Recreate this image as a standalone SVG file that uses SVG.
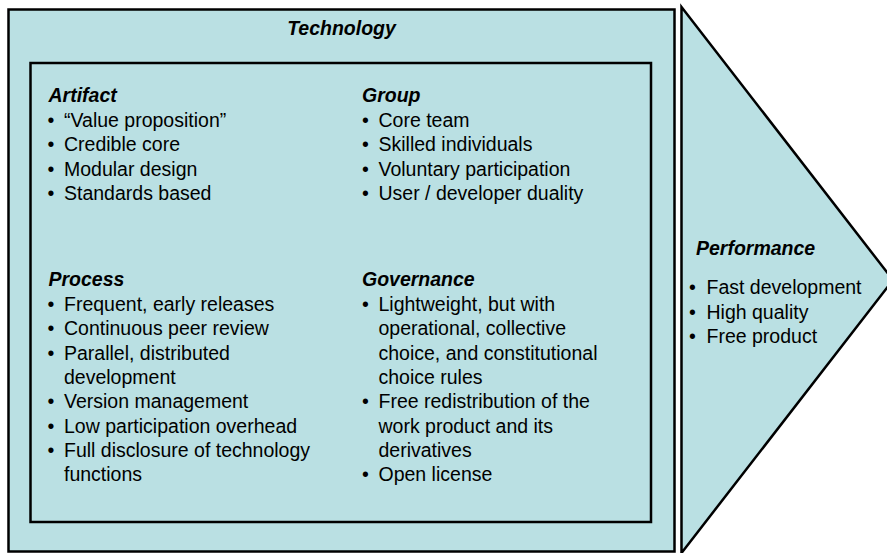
<svg xmlns="http://www.w3.org/2000/svg" width="887" height="553" viewBox="0 0 887 553">
<style>
.box{fill:#BAE0E3;stroke:#000;stroke-width:2.5}
.h{font-family:"Liberation Sans",Arial,sans-serif;font-size:19.5px;font-weight:bold;font-style:italic;fill:#000}
.t{font-family:"Liberation Sans",Arial,sans-serif;font-size:19.5px;fill:#000}
</style>
<rect width="887" height="553" fill="#fff"/>
<g id="performance">
<polygon class="box" points="681.5,7 893,280 681.5,553"/>
<text class="h" x="696" y="255">Performance</text>
<text class="t"><tspan x="689" y="294">•</tspan><tspan x="706.5" y="294">Fast development</tspan><tspan x="689" y="318.5">•</tspan><tspan x="706.5" y="318.5">High quality</tspan><tspan x="689" y="343">•</tspan><tspan x="706.5" y="343">Free product</tspan></text>
</g>
<g id="technology">
<rect class="box" x="8.5" y="9.5" width="666" height="542"/>
<text class="h" x="341.5" y="35" text-anchor="middle">Technology</text>
<rect class="box" x="30.5" y="63" width="620.5" height="459"/>
</g>
<g id="artifact">
<text class="h" x="48.5" y="102">Artifact</text>
<text class="t"><tspan x="47.5" y="127">•</tspan><tspan x="64" y="127">“Value proposition”</tspan><tspan x="47.5" y="151">•</tspan><tspan x="64" y="151">Credible core</tspan><tspan x="47.5" y="176">•</tspan><tspan x="64" y="176">Modular design</tspan><tspan x="47.5" y="200">•</tspan><tspan x="64" y="200">Standards based</tspan></text>
</g>
<g id="group">
<text class="h" x="362" y="102">Group</text>
<text class="t"><tspan x="362" y="127">•</tspan><tspan x="378.5" y="127">Core team</tspan><tspan x="362" y="151">•</tspan><tspan x="378.5" y="151">Skilled individuals</tspan><tspan x="362" y="176">•</tspan><tspan x="378.5" y="176">Voluntary participation</tspan><tspan x="362" y="200">•</tspan><tspan x="378.5" y="200">User / developer duality</tspan></text>
</g>
<g id="process">
<text class="h" x="48.5" y="286">Process</text>
<text class="t"><tspan x="47.5" y="311">•</tspan><tspan x="64" y="311">Frequent, early releases</tspan><tspan x="47.5" y="335">•</tspan><tspan x="64" y="335">Continuous peer review</tspan><tspan x="47.5" y="360">•</tspan><tspan x="64" y="360">Parallel, distributed</tspan><tspan x="64" y="384">development</tspan><tspan x="47.5" y="408">•</tspan><tspan x="64" y="408">Version management</tspan><tspan x="47.5" y="433">•</tspan><tspan x="64" y="433">Low participation overhead</tspan><tspan x="47.5" y="457">•</tspan><tspan x="64" y="457">Full disclosure of technology</tspan><tspan x="64" y="481">functions</tspan></text>
</g>
<g id="governance">
<text class="h" x="362" y="286">Governance</text>
<text class="t"><tspan x="362" y="311">•</tspan><tspan x="378.5" y="311">Lightweight, but with</tspan><tspan x="378.5" y="335">operational, collective</tspan><tspan x="378.5" y="360">choice, and constitutional</tspan><tspan x="378.5" y="384">choice rules</tspan><tspan x="362" y="408">•</tspan><tspan x="378.5" y="408">Free redistribution of the</tspan><tspan x="378.5" y="433">work product and its</tspan><tspan x="378.5" y="457">derivatives</tspan><tspan x="362" y="481">•</tspan><tspan x="378.5" y="481">Open license</tspan></text>
</g>
<g id="connectors"></g>
</svg>
